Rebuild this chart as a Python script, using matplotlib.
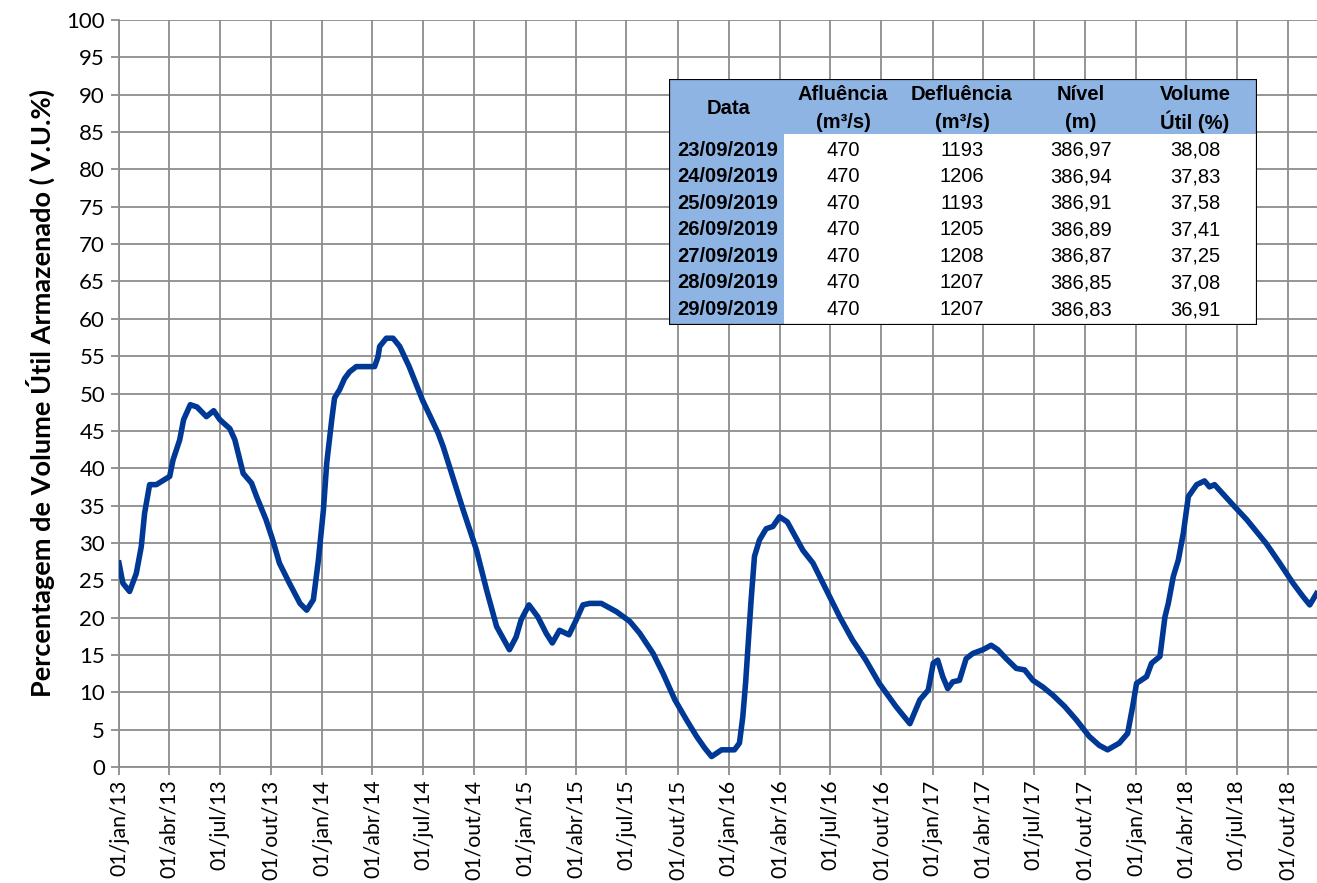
import numpy as np
import pandas as pd
import matplotlib
matplotlib.use('Agg')
import matplotlib.pyplot as plt
from matplotlib.patches import Rectangle

# ------------------------------------------------------
#  Data
# ------------------------------------------------------
dates = ['2013-01-01', '2013-01-08', '2013-01-20', '2013-02-01', '2013-02-10', '2013-02-16',
         '2013-02-25', '2013-03-09', '2013-04-02', '2013-04-08', '2013-04-20', '2013-04-27',
         '2013-05-09', '2013-05-21', '2013-06-07', '2013-06-20', '2013-07-01', '2013-07-19',
         '2013-07-28', '2013-08-12', '2013-08-27', '2013-09-05', '2013-09-22', '2013-10-04',
         '2013-10-16', '2013-11-03', '2013-11-22', '2013-12-04', '2013-12-16', '2013-12-25',
         '2014-01-03', '2014-01-09', '2014-01-18', '2014-01-23', '2014-02-01', '2014-02-10',
         '2014-02-19', '2014-03-03', '2014-04-05', '2014-04-11', '2014-04-14', '2014-04-26',
         '2014-05-08', '2014-05-20', '2014-06-06', '2014-06-30', '2014-07-28', '2014-08-06',
         '2014-09-11', '2014-10-05', '2014-10-23', '2014-11-10', '2014-12-03', '2014-12-15',
         '2014-12-24', '2015-01-07', '2015-01-23', '2015-02-07', '2015-02-18', '2015-03-03',
         '2015-03-20', '2015-04-02', '2015-04-14', '2015-04-26', '2015-05-17', '2015-06-13',
         '2015-07-07', '2015-07-25', '2015-08-18', '2015-09-05', '2015-09-26', '2015-10-17',
         '2015-11-04', '2015-11-19', '2015-12-01', '2015-12-19', '2016-01-11', '2016-01-20',
         '2016-01-26', '2016-01-31', '2016-02-10', '2016-02-16', '2016-02-25', '2016-03-08',
         '2016-03-20', '2016-04-01', '2016-04-15', '2016-05-13', '2016-05-31', '2016-06-24',
         '2016-07-18', '2016-08-10', '2016-09-03', '2016-09-27', '2016-10-27', '2016-11-21',
         '2016-12-09', '2016-12-24', '2017-01-02', '2017-01-10', '2017-01-19', '2017-01-28',
         '2017-02-06', '2017-02-18', '2017-03-02', '2017-03-14', '2017-04-01', '2017-04-16',
         '2017-04-28', '2017-05-13', '2017-05-31', '2017-06-15', '2017-06-30', '2017-07-18',
         '2017-08-05', '2017-08-26', '2017-09-16', '2017-10-09', '2017-10-27', '2017-11-11',
         '2017-12-02', '2017-12-17', '2017-12-26', '2018-01-02', '2018-01-20', '2018-01-29',
         '2018-02-13', '2018-02-22', '2018-02-28', '2018-03-09', '2018-03-18', '2018-03-27',
         '2018-04-05', '2018-04-20', '2018-05-04', '2018-05-13', '2018-05-22', '2018-06-24',
         '2018-07-19', '2018-08-23', '2018-09-16', '2018-10-10', '2018-10-28', '2018-11-09',
         '2018-11-21']
volume_util = [27.3, 24.6, 23.5, 25.9, 29.5, 34.0,
               37.8, 37.8, 38.9, 41.1, 43.8, 46.5,
               48.5, 48.2, 46.9, 47.7, 46.5, 45.3,
               43.8, 39.3, 38.0, 36.2, 33.1, 30.4,
               27.3, 24.6, 21.9, 21.0, 22.4, 27.7,
               34.4, 40.7, 46.5, 49.4, 50.5, 52.0,
               52.9, 53.6, 53.6, 54.9, 56.3, 57.4,
               57.4, 56.3, 53.6, 49.1, 44.7, 42.9,
               34.4, 29.0, 23.7, 18.8, 15.7, 17.4,
               19.7, 21.7, 20.1, 17.9, 16.6, 18.3,
               17.7, 19.7, 21.7, 21.9, 21.9, 20.8,
               19.5, 17.9, 15.2, 12.5, 9.0, 6.3,
               4.1, 2.5, 1.4, 2.3, 2.3, 3.2,
               6.7, 11.2, 22.4, 28.2, 30.4, 31.9,
               32.2, 33.5, 32.8, 29.0, 27.3, 23.7,
               20.1, 17.0, 14.3, 11.2, 8.1, 5.8,
               9.0, 10.3, 13.9, 14.3, 12.1, 10.5,
               11.4, 11.6, 14.5, 15.2, 15.7, 16.3,
               15.7, 14.5, 13.2, 13.0, 11.6, 10.7,
               9.6, 8.1, 6.3, 4.1, 2.9, 2.3,
               3.2, 4.5, 8.1, 11.2, 12.1, 13.9,
               14.8, 20.1, 21.9, 25.5, 27.7, 31.3,
               36.2, 37.8, 38.3, 37.5, 37.8, 35.1,
               33.1, 29.9, 27.3, 24.6, 22.8, 21.7,
               23.2]

tick_dates = pd.date_range('2013-01-01', '2018-10-01', freq='3MS')
month_pt = {1: 'jan', 4: 'abr', 7: 'jul', 10: 'out'}
tick_labels = ['01/%s/%s' % (month_pt[d.month], d.strftime('%y')) for d in tick_dates]

# Table in the upper right corner
tab_header = [['Data', ''], ['Afluência', '(m³/s)'], ['Defluência', '(m³/s)'],
              ['Nível', '(m)'], ['Volume', 'Útil (%)']]
tab_data = ['23/09/2019', '24/09/2019', '25/09/2019', '26/09/2019',
            '27/09/2019', '28/09/2019', '29/09/2019']
tab_aflu = ['470', '470', '470', '470', '470', '470', '470']
tab_deflu = ['1193', '1206', '1193', '1205', '1208', '1207', '1207']
tab_nivel = ['386,97', '386,94', '386,91', '386,89', '386,87', '386,85', '386,83']
tab_vu = ['38,08', '37,83', '37,58', '37,41', '37,25', '37,08', '36,91']

# ------------------------------------------------------
#  Plot
# ------------------------------------------------------
W, H = 1317, 883
fig = plt.figure(figsize=(W / 100, H / 100), dpi=100)
ax = fig.add_axes([119 / W, 1 - 767 / H, (W - 119) / W, (767 - 20) / H])

x = pd.to_datetime(dates)
ax.plot(x, volume_util, color='#003896', linewidth=4.0, solid_joinstyle='round', zorder=3)

ax.set_ylim(0, 100)
ax.set_yticks(np.arange(0, 101, 5))
ax.set_xlim(pd.Timestamp('2013-01-01'), pd.Timestamp('2018-11-22'))
ax.set_xticks(tick_dates)
ax.set_xticklabels(tick_labels, rotation=90, fontsize=15.3, family='Lato')
for lab in ax.get_yticklabels():
    lab.set_fontsize(16)
    lab.set_family('Lato')

ax.grid(True, color='#8c8c8c', linewidth=1.3)
ax.set_axisbelow(True)
for s in ['top', 'right']:
    ax.spines[s].set_visible(False)
for s in ['left', 'bottom']:
    ax.spines[s].set_color('#8c8c8c')
    ax.spines[s].set_linewidth(1.3)
ax.tick_params(axis='both', colors='#8c8c8c', length=6, width=1.3, labelcolor='black')
ax.tick_params(axis='x', pad=3)
ax.tick_params(axis='y', pad=4)

fig.text(40 / W, 1 - 393 / H, 'Percentagem de Volume Útil Armazenado ( V.U.%)',
         rotation=90, ha='center', va='center', fontsize=19.5, fontweight='bold', family='Lato')

# ------------------------------------------------------
#  Table
# ------------------------------------------------------
tl, tt, tr, tb = 669, 79, 1257, 325
tax = fig.add_axes([tl / W, 1 - tb / H, (tr - tl) / W, (tb - tt) / H])
tw, th = tr - tl, tb - tt
tax.set_xlim(0, tw)
tax.set_ylim(th, 0)
tax.axis('off')
blue = '#8DB4E2'
tax.add_patch(Rectangle((0, 0), tw, th, facecolor='white', edgecolor='none'))
tax.add_patch(Rectangle((0, 0), tw, 55, facecolor=blue, edgecolor='none'))
tax.add_patch(Rectangle((0, 0), 115, th, facecolor=blue, edgecolor='none'))
tax.add_patch(Rectangle((0, 0), tw, th, facecolor='none', edgecolor='black', linewidth=1.6))

col_x = [59, 174, 293, 412, 526]
tax.text(col_x[0], 29, tab_header[0][0], ha='center', va='center', fontsize=14.5,
         fontweight='bold', family='Liberation Sans')
for cx, (h1, h2) in zip(col_x[1:], tab_header[1:]):
    tax.text(cx, 16, h1, ha='center', va='center', fontsize=14.5, fontweight='bold',
             family='Liberation Sans')
    tax.text(cx, 43, h2, ha='center', va='center', fontsize=14.5, fontweight='bold',
             family='Liberation Sans')
for i in range(len(tab_data)):
    ry = 71 + i * 26.6
    tax.text(col_x[0], ry, tab_data[i], ha='center', va='center', fontsize=14.5,
             fontweight='bold', family='Liberation Sans')
    for cx, col in zip(col_x[1:], [tab_aflu, tab_deflu, tab_nivel, tab_vu]):
        tax.text(cx, ry, col[i], ha='center', va='center', fontsize=14.5,
                 family='Liberation Sans')

fig.savefig('out.png', dpi=100)
